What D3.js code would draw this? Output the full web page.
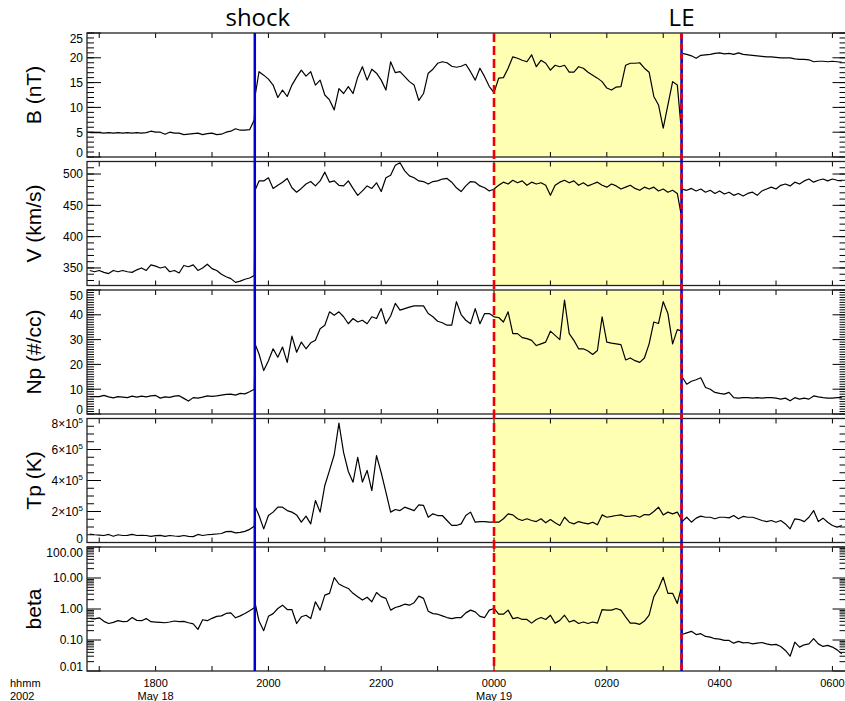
<!DOCTYPE html>
<html>
<head>
<meta charset="utf-8">
<script src="https://cdn.jsdelivr.net/npm/d3@7"></script>
<style>
  body { margin: 0; background: #fff; }
  svg { display: block; }
</style>
</head>
<body>
<svg id="chart" width="845" height="701"></svg>
<script>
// Solar wind data, 18-19 May 2002. Samples every 5 minutes from 16:50 UT.
const gridStart = "2002-05-18T16:50:00Z";
const gridStepMin = 5;
// Two extra samples (minutes after 16:50): just after the shock, just before the leading edge.
const extraMinutes = [176, 629];

// Event times
const shockTime = "2002-05-18T19:45:30Z";
const sheathStart = "2002-05-19T00:00:00Z";
const leTime = "2002-05-19T03:19:30Z";

// |B| (nT)
const bField = [
  4.9, 4.9, 4.9, 4.8, 4.9, 4.8, 4.9, 4.8, 4.9, 4.8, 4.9, 4.8, 4.9, 5.2, 5.0, 5.0, 4.6, 5.0, 4.8, 4.8,
  4.5, 4.6, 4.7, 4.8, 4.5, 4.7, 4.8, 4.5, 4.6, 5.0, 5.2, 5.7, 5.4, 5.4, 5.5, 7.5,
  17.2, 16.5, 15.7, 14.5, 12.0, 13.5, 12.2, 14.5, 16.1, 17.5, 16.3, 17.2, 14.5, 15.5, 12.5, 11.5, 9.5,
  13.8, 12.8, 14.2, 12.8, 16.1, 18.2, 15.5, 17.7, 16.9, 15.5, 13.5, 19.2, 17.0, 17.2, 16.2, 15.2, 14.5,
  11.4, 12.8, 16.9, 17.7, 18.9, 19.2, 19.0, 18.3, 18.1, 18.3, 18.7, 17.2, 15.5, 17.9, 16.2, 14.2, 13.0,
  15.9, 16.0, 17.9, 20.2, 19.9, 19.5, 19.2, 20.6, 18.2, 19.5, 18.9, 17.5, 18.5, 18.2, 18.5, 17.1, 17.1,
  18.2, 17.9, 17.1, 16.5, 15.9, 15.2, 13.9, 13.5, 14.1, 14.2, 18.5, 18.9, 18.9, 19.0, 17.9, 17.1, 12.2,
  10.5, 5.8, 10.5, 15.2, 14.5,
  20.9, 20.7, 20.4, 19.9, 20.5, 20.6, 20.7, 20.9, 21.0, 20.8, 20.9, 20.7, 21.0, 20.7, 20.6, 20.5, 20.4,
  20.3, 20.2, 20.2, 20.1, 20.0, 20.0, 20.0, 19.8, 19.7, 19.7, 19.6, 19.2, 19.3, 19.3, 19.2, 19.3, 19.2, 19.1
];
const bExtra = [12.5, 6.0];

// Bulk speed (km/s)
const speed = [
  346, 344, 346, 343, 341, 346, 344, 346, 344, 343, 347, 350, 346, 355, 353, 350, 352, 344, 346, 342,
  354, 352, 355, 346, 350, 356, 349, 346, 340, 336, 333, 327, 329, 332, 334, 338,
  489, 489, 494, 477, 482, 487, 493, 478, 471, 477, 484, 488, 481, 489, 503, 487, 489, 482, 481, 489,
  477, 466, 473, 481, 477, 486, 472, 494, 498, 514, 518, 505, 497, 494, 489, 488, 484, 488, 489, 492,
  493, 487, 478, 472, 481, 488, 487, 481, 478, 473, 476,
  482, 487, 484, 490, 486, 489, 482, 487, 484, 486, 482, 466, 482, 487, 490, 486, 489, 482, 486, 481,
  484, 487, 482, 479, 484, 481, 476, 479, 482, 477, 474, 479, 476, 479, 473, 476, 471, 474, 469,
  476, 474, 477, 473, 476, 471, 474, 469, 473, 468, 471, 466, 469, 465, 469, 471, 466, 473, 476, 479,
  476, 482, 484, 481, 487, 484, 489, 492, 487, 490, 492, 489, 492, 490, 489
];
const speedExtra = [475, 436];

// Proton density (#/cc)
const density = [
  7.0, 7.0, 7.0, 7.5, 6.9, 6.5, 7.0, 6.8, 6.6, 7.2, 6.8, 7.2, 6.9, 7.3, 7.5, 6.4, 6.9, 6.7, 7.2, 7.4,
  6.3, 5.2, 6.6, 6.4, 6.8, 7.3, 7.1, 7.3, 7.6, 7.9, 8.0, 7.6, 8.3, 8.1, 9.0, 10.0,
  24.2, 17.5, 21.5, 26.3, 22.9, 27.0, 20.8, 31.4, 24.9, 29.0, 26.3, 28.7, 29.7, 34.4, 35.8, 41.2, 39.8,
  41.2, 39.2, 36.4, 38.5, 37.1, 37.8, 36.4, 39.2, 38.5, 42.5, 36.4, 39.5, 44.6, 41.9, 42.5, 43.1, 43.6,
  43.6, 43.6, 40.5, 39.2, 37.4, 36.8, 35.8, 35.8, 45.3, 40.1, 37.8, 36.4, 42.5, 36.4, 40.5, 40.5, 39.2,
  38.9, 37.1, 41.2, 32.4, 32.4, 30.8, 30.4, 29.7, 27.6, 28.3, 29.0, 33.4, 31.7, 30.0, 45.9, 32.4, 29.7,
  26.3, 26.3, 25.4, 24.0, 25.6, 39.2, 29.0, 28.6, 28.3, 28.0, 21.8, 22.6, 21.5, 20.8, 22.6, 28.3, 37.1,
  36.5, 45.3, 40.5, 28.3, 34.0,
  15.0, 12.0, 13.2, 13.8, 14.6, 10.7, 10.0, 8.7, 8.3, 8.0, 8.7, 6.6, 6.4, 6.6, 6.6, 6.4, 6.6, 6.4,
  6.6, 6.6, 6.4, 6.0, 6.4, 5.3, 6.6, 6.0, 6.4, 6.0, 7.3, 6.9, 6.6, 6.4, 6.4, 6.6, 6.6
];
const densityExtra = [28.0, 33.5];

// Proton temperature (units of 1e5 K)
const tempE5 = [
  0.55, 0.50, 0.48, 0.45, 0.52, 0.40, 0.50, 0.45, 0.46, 0.52, 0.45, 0.46, 0.45, 0.40, 0.44, 0.46, 0.40,
  0.45, 0.42, 0.40, 0.45, 0.40, 0.38, 0.52, 0.45, 0.50, 0.52, 0.55, 0.58, 0.70, 0.72, 0.62, 0.65, 0.72,
  0.85, 1.05,
  1.74, 0.88, 1.74, 1.96, 2.28, 2.28, 2.06, 1.96, 1.78, 1.31, 1.70, 1.20, 2.71, 1.96, 3.68, 4.65, 5.66,
  7.7, 5.8, 4.58, 3.89, 5.5, 3.9, 4.65, 3.35, 5.6, 4.5, 3.25, 1.96, 2.13, 2.06, 2.28, 2.17, 2.06, 2.43,
  2.39, 1.63, 1.85, 1.74, 1.74, 1.42, 1.10, 1.10, 1.20, 1.74, 1.96, 1.31, 1.35, 1.35, 1.31, 1.31,
  1.31, 1.53, 1.85, 1.78, 1.53, 1.42, 1.53, 1.42, 1.35, 1.53, 1.27, 1.48, 1.27, 1.10, 1.63, 1.31, 1.20,
  1.35, 1.27, 1.20, 1.31, 1.14, 1.78, 1.63, 1.68, 1.74, 1.78, 1.68, 1.70, 1.74, 1.63, 1.80, 1.78, 2.00,
  2.28, 1.78, 1.96, 1.85, 1.96,
  1.35, 1.63, 1.31, 1.57, 1.70, 1.63, 1.63, 1.53, 1.63, 1.63, 1.59, 1.74, 1.53, 1.68, 1.63, 1.63, 1.53,
  1.42, 1.35, 1.42, 1.31, 1.42, 1.20, 0.88, 1.53, 1.48, 1.35, 1.63, 2.06, 1.35, 1.57, 1.31, 1.10, 0.99, 1.10
];
const tempExtra = [2.3, 1.53];

// Plasma beta
const beta = [
  0.50, 0.48, 0.52, 0.40, 0.34, 0.37, 0.42, 0.39, 0.40, 0.53, 0.43, 0.42, 0.49, 0.39, 0.38, 0.37, 0.36,
  0.38, 0.41, 0.39, 0.40, 0.36, 0.33, 0.22, 0.45, 0.42, 0.50, 0.58, 0.60, 0.72, 0.75, 0.52, 0.60, 0.72,
  0.88, 1.10,
  0.41, 0.20, 0.58, 0.71, 1.04, 1.33, 0.96, 0.96, 0.34, 0.56, 0.63, 0.49, 1.71, 0.92, 2.8, 3.2, 10.3,
  6.4, 5.3, 4.6, 3.2, 2.5, 1.94, 2.4, 1.71, 3.4, 2.5, 2.2, 0.92, 1.12, 1.24, 1.43, 1.33, 1.6, 2.6, 2.2,
  0.85, 0.71, 0.68, 0.60, 0.53, 0.49, 0.53, 0.53, 0.75, 0.92, 0.81, 0.58, 0.53, 0.92, 1.04,
  0.68, 0.68, 0.92, 0.49, 0.53, 0.46, 0.46, 0.35, 0.46, 0.53, 0.46, 0.63, 0.35, 0.43, 0.63, 0.38, 0.43,
  0.34, 0.38, 0.34, 0.38, 0.35, 0.96, 0.92, 0.92, 1.04, 0.92, 0.56, 0.35, 0.35, 0.32, 0.41, 0.63, 2.5,
  4.6, 10.5, 3.2, 3.2, 1.51,
  0.15, 0.17, 0.19, 0.15, 0.16, 0.13, 0.124, 0.11, 0.107, 0.097, 0.097, 0.079, 0.09, 0.081, 0.083,
  0.075, 0.079, 0.083, 0.075, 0.07, 0.072, 0.062, 0.046, 0.03, 0.085, 0.059, 0.07, 0.075, 0.11, 0.075,
  0.062, 0.067, 0.059, 0.048, 0.036
];
const betaExtra = [1.45, 4.6];

// Axis tick values and labels
const bTicks = [0, 5, 10, 15, 20, 25];
const speedTicks = [350, 400, 450, 500];
const densityTicks = [0, 10, 20, 30, 40, 50];
const tempTicks = [0, 2, 4, 6, 8];
const betaTicks = [0.01, 0.1, 1, 10, 100];
const betaTickLabels = ["0.01", "0.10", "1.00", "10.00", "100.00"];
const dayLabels = { "1800": "May 18", "0000": "May 19" };

// ---------------------------------------------------------------------------
const svg = d3.select("#chart");
const plotLeft = 87;
const panelTop0 = 33, panelH = 124, panelPitch = 128.5;
const labelFont = "'Liberation Sans', Arial, sans-serif";

const x = d3.scaleUtc()
  .domain([new Date("2002-05-18T16:47:00Z"), new Date("2002-05-19T06:15:00Z")])
  .range([plotLeft, plotLeft + 808 * 0.94]);
const plotRight = x.range()[1];
const toDate = m => new Date(Date.parse(gridStart) + m * 60000);

function seriesPoints(values, extras) {
  const pts = values.map((v, i) => ({ t: i * gridStepMin, v }));
  extras.forEach((v, j) => pts.push({ t: extraMinutes[j], v }));
  return pts.sort((a, b) => a.t - b.t);
}

const panels = [
  { label: "B (nT)", values: bField, extras: bExtra, log: false, domain: [0, 25],
    major: bTicks, minor: d3.range(0, 25.01, 1), fmt: d => String(d) },
  { label: "V (km/s)", values: speed, extras: speedExtra, log: false, domain: [322, 520],
    major: speedTicks, minor: d3.range(330, 520.1, 10), fmt: d => String(d) },
  { label: "Np (#/cc)", values: density, extras: densityExtra, log: false, domain: [0, 50],
    major: densityTicks, minor: d3.range(0, 50.01, 1), fmt: d => String(d) },
  { label: "Tp (K)", values: tempE5, extras: tempExtra, log: false, domain: [0, 8],
    major: tempTicks, minor: d3.range(0, 8.01, 0.5), fmt: null },
  { label: "beta", values: beta, extras: betaExtra, log: true, domain: [0.01, 100],
    major: betaTicks, minor: [0.01, 0.1, 1, 10].flatMap(d => d3.range(2, 10).map(k => d * k)),
    fmt: d => betaTickLabels[betaTicks.indexOf(d)] }
];

const hourTicks = d3.utcHour.range(x.domain()[0], x.domain()[1]);
const labelTicks = hourTicks.filter(d => d.getUTCHours() % 2 === 0);
const fmtHM = d3.utcFormat("%H%M");

const defs = svg.append("defs");

panels.forEach((p, i) => {
  const top = panelTop0 + i * panelPitch;
  const bottom = top + panelH;
  const y = (p.log ? d3.scaleLog() : d3.scaleLinear()).domain(p.domain).range([bottom, top]);
  const g = svg.append("g");

  defs.append("clipPath").attr("id", "clip" + i)
    .append("rect").attr("x", plotLeft).attr("y", top)
    .attr("width", plotRight - plotLeft).attr("height", panelH);

  // shaded interval between the sheath start and the leading edge
  g.append("rect")
    .attr("x", x(new Date(sheathStart))).attr("y", top)
    .attr("width", x(new Date(leTime)) - x(new Date(sheathStart)))
    .attr("height", panelH)
    .attr("fill", "#FFFFB4");

  // data trace
  const line = d3.line().x(d => x(toDate(d.t))).y(d => y(d.v));
  g.append("path")
    .datum(seriesPoints(p.values, p.extras))
    .attr("clip-path", `url(#clip${i})`)
    .attr("d", line)
    .attr("fill", "none")
    .attr("stroke", "#000")
    .attr("stroke-width", 1.2)
    .attr("stroke-linejoin", "round");

  // y ticks, left and right, pointing inward
  const tickG = g.append("g").attr("stroke", "#000").attr("stroke-width", 1);
  p.minor.forEach(v => {
    const yy = y(v);
    tickG.append("line").attr("x1", plotLeft).attr("x2", plotLeft + 7).attr("y1", yy).attr("y2", yy);
    tickG.append("line").attr("x1", plotRight).attr("x2", plotRight - 7).attr("y1", yy).attr("y2", yy);
  });
  p.major.forEach(v => {
    const yy = y(v);
    tickG.append("line").attr("x1", plotLeft).attr("x2", plotLeft + 14).attr("y1", yy).attr("y2", yy);
    tickG.append("line").attr("x1", plotRight).attr("x2", plotRight - 14).attr("y1", yy).attr("y2", yy);
  });

  // x ticks, top and bottom, every hour
  hourTicks.forEach(d => {
    const xx = x(d);
    tickG.append("line").attr("x1", xx).attr("x2", xx).attr("y1", top).attr("y2", top + 5);
    tickG.append("line").attr("x1", xx).attr("x2", xx).attr("y1", bottom).attr("y2", bottom - 5);
  });

  // frame
  g.append("rect")
    .attr("x", plotLeft).attr("y", top)
    .attr("width", plotRight - plotLeft).attr("height", panelH)
    .attr("fill", "none").attr("stroke", "#222").attr("stroke-width", 1.3);

  // y tick labels
  p.major.forEach(v => {
    const yy = Math.max(top + 5.5, Math.min(bottom - 4, y(v)));
    const t = g.append("text")
      .attr("x", plotLeft - 4).attr("y", yy).attr("dy", "0.36em")
      .attr("text-anchor", "end")
      .attr("font-family", labelFont).attr("font-size", 12).attr("fill", "#000");
    if (p.fmt) {
      t.text(p.fmt(v));
    } else if (v === 0) {
      t.text("0");
    } else {
      t.append("tspan").text(v + "×10");
      t.append("tspan").attr("font-size", 8).attr("dy", -5).text("5");
    }
  });

  // y axis title
  g.append("text")
    .attr("transform", `translate(41,${(top + bottom) / 2}) rotate(-90)`)
    .attr("text-anchor", "middle")
    .attr("font-family", labelFont).attr("font-size", 21).attr("fill", "#000")
    .text(p.label);
});

// bottom time axis labels
const axisBottom = panelTop0 + 4 * panelPitch + panelH;
const xl = svg.append("g").attr("font-family", labelFont).attr("font-size", 11).attr("fill", "#000");
labelTicks.forEach(d => {
  const s = fmtHM(d);
  xl.append("text").attr("x", x(d)).attr("y", axisBottom + 16).attr("text-anchor", "middle").text(s);
  if (dayLabels[s]) {
    xl.append("text").attr("x", x(d)).attr("y", axisBottom + 28.5).attr("text-anchor", "middle").text(dayLabels[s]);
  }
});
xl.append("text").attr("x", 10).attr("y", axisBottom + 16).text("hhmm");
xl.append("text").attr("x", 10).attr("y", axisBottom + 28.5).text("2002");

// event markers spanning all panels
const yTop = panelTop0, yBot = axisBottom;
const xs = x(new Date(shockTime)), x0 = x(new Date(sheathStart)), xle = x(new Date(leTime));
svg.append("line").attr("x1", xs).attr("x2", xs).attr("y1", yTop).attr("y2", yBot)
  .attr("stroke", "#0000D0").attr("stroke-width", 2.5);
svg.append("line").attr("x1", x0).attr("x2", x0).attr("y1", yTop).attr("y2", yBot)
  .attr("stroke", "#F00000").attr("stroke-width", 2.6).attr("stroke-dasharray", "9,4");
svg.append("line").attr("x1", xle).attr("x2", xle).attr("y1", yTop).attr("y2", yBot)
  .attr("stroke", "#0000D0").attr("stroke-width", 2.5);
svg.append("line").attr("x1", xle).attr("x2", xle).attr("y1", yTop).attr("y2", yBot)
  .attr("stroke", "#F00000").attr("stroke-width", 2.6).attr("stroke-dasharray", "6,4");

// event names
const ev = svg.append("g").attr("font-family", "'Open Sans', 'DejaVu Sans', sans-serif")
  .attr("font-size", 24).attr("fill", "#000").attr("text-anchor", "middle");
ev.append("text").attr("x", xs + 3).attr("y", 26).text("shock");
ev.append("text").attr("x", xle).attr("y", 26).text("LE");
</script>
</body>
</html>
